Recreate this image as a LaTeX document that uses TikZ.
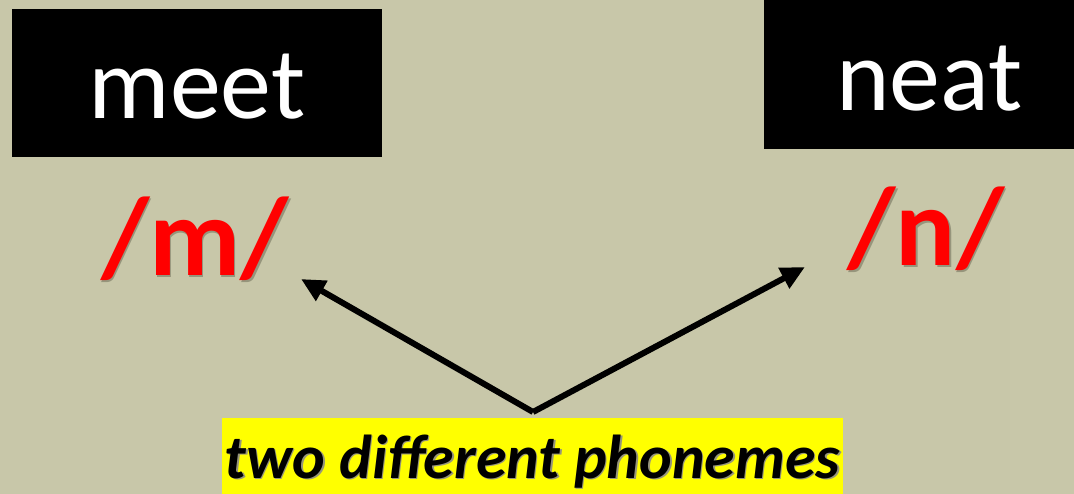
\documentclass[tikz,border=0pt]{standalone}
\usepackage{fontspec}
\setmainfont{Carlito}
\usetikzlibrary{arrows.meta,positioning}
\definecolor{slide}{RGB}{200,199,169}
\definecolor{shade}{RGB}{150,149,124}
\definecolor{marker}{RGB}{255,255,0}
\newcommand{\shadowtext}[1]{\makebox[0pt][l]{\hspace{1.5pt}\raisebox{-1.5pt}{\textcolor{shade}{#1}}}#1}
\begin{document}
\begin{tikzpicture}
[x=1pt, y=-1pt, >={Triangle[length=24pt,width=22pt]},
word/.style={fill=black, text=white, inner sep=0pt, anchor=north,
  font=\fontsize{102}{102}\selectfont, text depth=39pt},
phoneme/.style={text=red, inner sep=0pt, anchor=base,
  font=\fontsize{112}{112}\selectfont\bfseries},
gloss/.style={fill=marker, inner sep=0pt, anchor=north, minimum width=621pt,
  font=\fontsize{62}{62}\selectfont\bfseries\itshape, text height=60pt, text depth=22pt},
link/.style={->, line width=6pt}
]
  \clip (0,0) rectangle (1074,494);
  \fill[slide] (0,0) rectangle (1074,494);

  \node[word, minimum width=370pt, text height=109pt] (meet) at (197,9)  {meet};
  \node[word, minimum width=331pt, text height=110pt] (neat) at (929.5,0) {neat};

  \node[phoneme] (m) at (195,276) {\shadowtext{/m/}};
  \node[phoneme] (n) at (926,266) {\shadowtext{/n/}};

  \node[gloss] (gloss) at (532.5,418) {\shadowtext{two different phonemes}};

  \coordinate (split) at (533,412);
  \coordinate (mtip)  at (301,279);
  \coordinate (ntip)  at (805,267);

  \draw[link] (split) -- (mtip);
  \draw[link] (split) -- (ntip);
\end{tikzpicture}
\end{document}
